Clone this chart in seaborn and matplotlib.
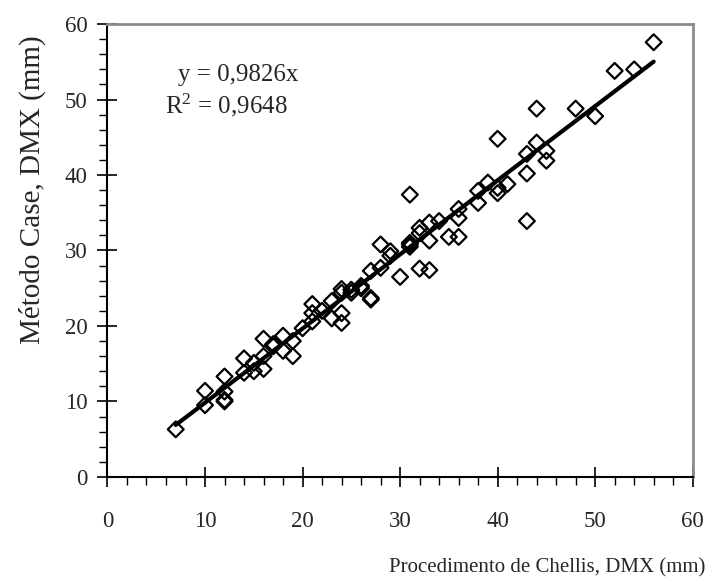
import matplotlib
matplotlib.use("Agg")
import matplotlib.pyplot as plt
from matplotlib.ticker import MultipleLocator
import numpy as np
import pandas as pd
import seaborn as sns

# ---- data ----
chellis = [7, 10, 10, 12, 12, 12, 12, 14, 14, 15, 15, 16, 16, 16, 17, 17, 18, 18,
           19, 19, 20, 21, 21, 21, 23, 23, 24, 24, 24, 25, 26, 27, 27, 27, 28, 28,
           29, 29, 30, 31, 31, 31, 31, 32, 32, 33, 33, 33, 34, 35, 36, 36, 36,
           38, 38, 39, 40, 40, 40, 41, 43, 43, 43, 44, 44, 45, 45, 48, 50, 52, 54, 56,
           22, 24, 26, 25, 32]
case = [6.3, 11.4, 9.5, 13.3, 11.3, 10.2, 10.0, 15.7, 13.8, 15.1, 14.0, 16.0, 14.3,
        18.3, 17.6, 17.3, 18.7, 16.7, 16.0, 18.0, 19.7, 22.9, 21.7, 20.6, 23.3, 21.0,
        24.9, 21.7, 20.4, 24.4, 25.0, 23.5, 23.7, 27.3, 27.7, 30.8, 29.9, 29.3, 26.5,
        37.4, 31.0, 30.5, 30.8, 33.0, 27.6, 33.7, 31.3, 27.4, 33.9, 31.8, 31.8, 35.5,
        34.3, 37.9, 36.3, 39.0, 44.8, 38.3, 37.6, 38.8, 42.8, 40.2, 33.9, 44.3, 48.8,
        43.2, 41.9, 48.8, 47.8, 53.8, 54.0, 57.6,
        22.0, 24.4, 25.3, 24.8, 32.3]
slope = 0.9826
r2 = 0.9648
fit_x = [7, 56]
x_ticks = [0, 10, 20, 30, 40, 50, 60]
y_ticks = [0, 10, 20, 30, 40, 50, 60]
xlabel = "Procedimento de Chellis, DMX (mm)"
ylabel = "Método Case, DMX (mm)"
eq_text = "y = 0,9826x"
r2_text = "R$^2$ = 0,9648"

df = pd.DataFrame({"x": chellis, "y": case})
fit = pd.DataFrame({"x": fit_x, "y": [slope * v for v in fit_x]})

sns.set_style("white")
plt.rcParams["font.family"] = ["Liberation Serif", "DejaVu Serif"]
plt.rcParams["mathtext.fontset"] = "custom"
plt.rcParams["mathtext.rm"] = "Liberation Serif"
plt.rcParams["mathtext.it"] = "Liberation Serif:italic"
plt.rcParams["mathtext.default"] = "regular"

fig = plt.figure(figsize=(7.09, 5.88), dpi=100)
ax = fig.add_axes([0.1516, 0.189, 0.977 - 0.1516, 0.959 - 0.189])

sns.lineplot(data=fit, x="x", y="y", ax=ax, color="black", linewidth=3, zorder=3)
sns.scatterplot(data=df, x="x", y="y", ax=ax, marker="D", s=65,
                facecolors="none", edgecolors="black", linewidths=1.6, zorder=4)

ax.set_xlim(0, 60)
ax.set_ylim(0, 60)
ax.set_xticks(x_ticks)
ax.set_yticks(y_ticks)
ax.set_xticklabels([str(t) for t in x_ticks])
ax.set_yticklabels([str(t) for t in y_ticks])
ax.xaxis.set_minor_locator(MultipleLocator(2))
ax.yaxis.set_minor_locator(MultipleLocator(2))
ax.tick_params(which="major", direction="inout", length=15, width=1.2,
               color="black", labelsize=16.5)
ax.tick_params(which="minor", direction="out", length=6, width=1.0, color="black")
ax.tick_params(axis="x", which="both", bottom=True, top=False)
ax.tick_params(axis="y", which="both", left=True, right=False)
ax.tick_params(axis="x", which="major", pad=17)
ax.tick_params(axis="y", which="major", pad=7)

ax.set_xlabel("")
ax.set_ylabel("")

for s in ["left", "bottom"]:
    ax.spines[s].set_color("black")
    ax.spines[s].set_linewidth(1.5)
for s in ["top", "right"]:
    ax.spines[s].set_color("#8c8c8c")
    ax.spines[s].set_linewidth(2)

ax.text(7.2, 53.3, eq_text, fontsize=18, va="center", ha="left")
ax.text(5.9, 49.2, r2_text, fontsize=18, va="center", ha="left")

fig.text(705 / 709, 1 - 568 / 588, xlabel, fontsize=15, ha="right", va="center")
fig.text(32 / 709, 1 - 190 / 588, ylabel, fontsize=21, ha="center", va="center",
         rotation=90)

fig.savefig("out.png", dpi=100)
